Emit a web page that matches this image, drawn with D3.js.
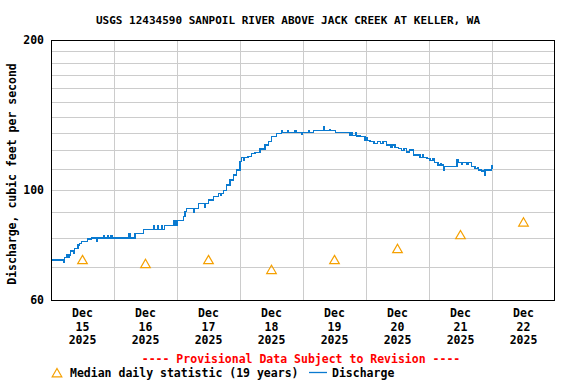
<!DOCTYPE html>
<html>
<head>
<meta charset="utf-8">
<script src="https://cdn.jsdelivr.net/npm/d3@7"></script>
<style>
  body { margin: 0; background: #fff; }
  text { font-family: "DejaVu Sans Mono", monospace; font-weight: bold; font-size: 11.5px; }
</style>
</head>
<body>
<div id="container"></div>
<script>

const title = 'USGS 12434590 SANPOIL RIVER ABOVE JACK CREEK AT KELLER, WA';
const yLabel = 'Discharge, cubic feet per second';
const yTickValues = [60, 100, 200];
const yGridValues = [70, 80, 90, 100, 110, 120, 130, 140, 150, 160, 170, 180, 190];

// days shown on x axis (Dec 2025)
const dayNumbers = [15, 16, 17, 18, 19, 20, 21, 22];

// median daily statistic, one per day
const medianCfs = [71.9, 70.6, 71.9, 68.7, 71.9, 75.7, 80.7, 85.6];

// discharge, hours since Dec 15 00:00 and cfs (step readings)
const flowHours = [
  0, 4.7, 5.0, 5.2, 5.8, 6.5, 6.8, 7.4, 8.6, 8.9, 9.0, 10.3, 10.9, 11.5, 14.0, 15.4,
  17.3, 17.8, 20.2, 20.5, 21.5, 21.8, 22.8, 23.2, 29.7, 30.1, 32.0, 35.2,
  39.0, 39.3, 40.5, 40.8, 42.0, 42.3, 43.2, 46.6, 46.9, 47.4, 47.7, 48.1, 50.4, 51.0, 51.7,
  54.2, 54.5, 56.1, 58.5, 58.8, 59.9, 61.8, 63.7, 64.5, 64.8, 65.6, 66.9, 68.2, 69.4, 70.7,
  72.0, 72.6, 73.5, 73.8, 75.0, 76.5, 77.7, 79.6, 81.5, 82.8, 84.1, 86.0, 87.9, 88.3,
  90.0, 90.3, 93.0, 93.3, 95.5, 95.8, 98.0, 98.3, 100.0, 104.0, 104.3, 106.0, 106.3, 108.5,
  113.9, 114.6, 114.9, 116.2, 116.5, 117.7, 119.6, 120.2, 120.5, 121.5, 123.0, 124.5, 125.5, 126.5,
  127.9, 129.5, 130.0, 131.0, 132.3, 133.5, 134.5, 135.5, 136.5, 138.0, 140.6, 141.5, 142.0,
  143.2, 144.4, 145.5, 146.0, 147.4, 148.5, 148.8, 149.5, 149.8, 154.7, 155.0, 156.5, 156.8,
  158.5, 158.8, 160.3, 161.5, 162.5, 162.8, 164.1, 165.1, 165.3, 167.9, 168.2, 168.5
];
const flowCfs = [
  72.2, 71.4, 72.2, 73.1, 73.9, 73.1, 73.9, 75.3, 74.3, 75.3, 76.2, 77.4, 78.0, 78.6, 79.6, 79.9,
  78.6, 79.9, 80.8, 79.9, 80.8, 79.9, 80.8, 79.9, 81.7, 79.9, 81.7, 83.2,
  84.5, 83.2, 84.5, 83.2, 84.5, 83.2, 84.8, 86.6, 84.8, 86.6, 84.8, 86.6, 88.2, 90.3, 91.7,
  90.0, 91.7, 93.9, 92.0, 93.9, 95.3, 96.8, 98.3, 97.2, 98.3, 99.5, 102.2, 104.6, 107.1, 109.6,
  113.9, 116.0, 114.5, 116.0, 116.8, 118.2, 118.9, 120.7, 123.0, 124.9, 127.8, 129.9, 131.3, 130.5,
  131.3, 130.5, 131.5, 130.5, 129.3, 130.5, 131.5, 130.5, 131.4, 134.0, 131.4, 132.3, 131.4, 130.4,
  128.7, 130.4, 128.7, 130.4, 128.3, 127.8, 125.4, 127.2, 125.4, 124.9, 124.0, 124.9, 124.0, 124.9,
  123.0, 121.8, 123.0, 121.5, 121.1, 120.0, 121.1, 119.0, 120.2, 117.4, 116.2, 117.4, 116.2,
  115.7, 114.5, 115.7, 113.5, 112.1, 113.0, 112.1, 109.6, 111.2, 114.7, 113.5, 112.3, 113.5,
  112.3, 113.5, 111.2, 110.2, 111.0, 109.6, 109.1, 107.1, 109.6, 111.7, 110.4, 110.4
];

const width = 576, height = 384;
const margin = { top: 40, right: 21, bottom: 84, left: 51 };
const start = Date.UTC(2025, 11, 15);
const hour = 3600 * 1000;

const svg = d3.select('#container')
  .append('svg')
  .attr('width', width)
  .attr('height', height);

svg.append('rect').attr('width', width).attr('height', height).attr('fill', '#fff');

const xScale = d3.scaleUtc()
  .domain([new Date(start), new Date(start + 8 * 24 * hour)])
  .range([margin.left, width - margin.right]);
const yScale = d3.scaleLog()
  .domain([60, 200])
  .range([height - margin.bottom, margin.top]);

const px = v => Math.round(v) + 0.5;

// grid
const grid = svg.append('g').attr('stroke', '#cccccc').attr('shape-rendering', 'crispEdges');
grid.selectAll('.hg')
  .data(yGridValues)
  .join('line')
  .attr('x1', margin.left).attr('x2', width - margin.right)
  .attr('y1', d => px(yScale(d))).attr('y2', d => px(yScale(d)));
grid.selectAll('.vg')
  .data(d3.utcDay.range(new Date(start + 24 * hour), new Date(start + 8 * 24 * hour)))
  .join('line')
  .attr('x1', d => px(xScale(d))).attr('x2', d => px(xScale(d)))
  .attr('y1', margin.top).attr('y2', height - margin.bottom);

// median triangles
const noon = i => new Date(start + (i * 24 + 12) * hour);
svg.append('g')
  .selectAll('path')
  .data(medianCfs)
  .join('path')
  .attr('d', d3.symbol(d3.symbolTriangle, 40))
  .attr('transform', (d, i) => `translate(${xScale(noon(i))},${yScale(d)})`)
  .attr('fill', 'none')
  .attr('stroke', '#f5a000')
  .attr('stroke-width', 1.2);

// discharge line
const flow = flowHours.map((h, i) => ({ t: new Date(start + h * hour), v: flowCfs[i] }));
const line = d3.line()
  .x(d => xScale(d.t))
  .y(d => yScale(d.v))
  .curve(d3.curveStepAfter);
svg.append('path')
  .datum(flow)
  .attr('fill', 'none')
  .attr('stroke', '#0a7ad0')
  .attr('stroke-width', 1.3)
  .attr('shape-rendering', 'crispEdges')
  .attr('d', line);

// frame
svg.append('rect')
  .attr('x', margin.left + 0.5).attr('y', margin.top + 0.5)
  .attr('width', width - margin.left - margin.right - 1)
  .attr('height', height - margin.top - margin.bottom)
  .attr('fill', 'none').attr('stroke', '#000').attr('shape-rendering', 'crispEdges');

// y tick labels
svg.append('g')
  .selectAll('text')
  .data(yTickValues)
  .join('text')
  .attr('x', 44)
  .attr('y', d => yScale(d) + 4)
  .attr('text-anchor', 'end')
  .text(d => d);

// x labels
const xl = svg.append('g').selectAll('g')
  .data(dayNumbers)
  .join('g')
  .attr('transform', (d, i) => `translate(${xScale(noon(i))},0)`);
xl.append('text').attr('y', 317).attr('text-anchor', 'middle').text('Dec');
xl.append('text').attr('y', 331).attr('text-anchor', 'middle').text(d => d);
xl.append('text').attr('y', 344).attr('text-anchor', 'middle').text('2025');

// title
svg.append('text')
  .attr('x', 288).attr('y', 23.5)
  .attr('text-anchor', 'middle')
  .style('font-size', '11px')
  .text(title);

// y axis label
svg.append('text')
  .attr('transform', 'translate(16,174) rotate(-90)')
  .attr('text-anchor', 'middle')
  .text(yLabel);

// footer
svg.append('text')
  .attr('x', 301).attr('y', 363)
  .attr('text-anchor', 'middle')
  .attr('fill', '#ff0000')
  .text('---- Provisional Data Subject to Revision ----');

svg.append('path')
  .attr('d', d3.symbol(d3.symbolTriangle, 40))
  .attr('transform', 'translate(57,374)')
  .attr('fill', 'none').attr('stroke', '#f5a000').attr('stroke-width', 1.2);
svg.append('text').attr('x', 70).attr('y', 377).text('Median daily statistic (19 years)');
svg.append('line')
  .attr('x1', 309).attr('x2', 327).attr('y1', 372.5).attr('y2', 372.5)
  .attr('stroke', '#0a7ad0').attr('stroke-width', 1.3);
svg.append('text').attr('x', 332).attr('y', 377).text('Discharge');

</script>
</body>
</html>
